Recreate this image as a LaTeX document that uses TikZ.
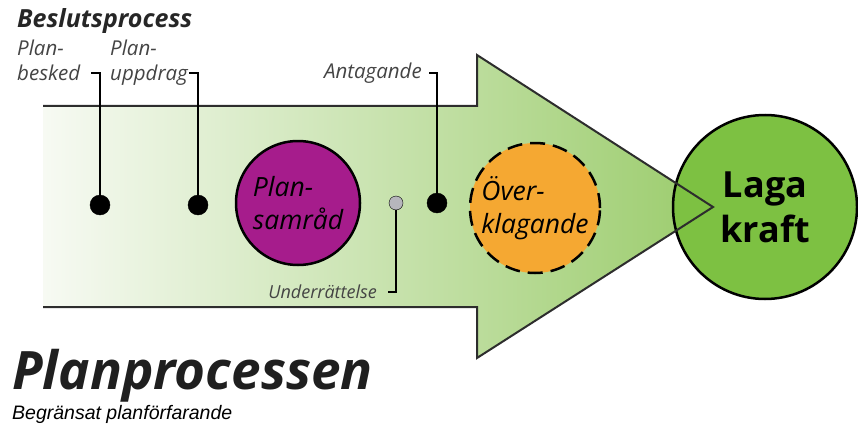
\documentclass[tikz,border=0pt]{standalone}
\usepackage{fontspec}
\setmainfont{Open Sans}
\newfontfamily\arialfont{Liberation Sans}
\usepackage{tikz}
\usetikzlibrary{positioning, calc}
\definecolor{arrowlight}{RGB}{247,250,243}
\definecolor{arrowmid}{RGB}{221,236,204}
\definecolor{arrowgreen}{RGB}{155,204,108}
\definecolor{samradpurple}{RGB}{166,28,140}
\definecolor{klagorange}{RGB}{245,168,50}
\definecolor{lagagreen}{RGB}{125,193,66}
\definecolor{outlinegray}{RGB}{45,45,45}
\definecolor{labelgray}{RGB}{68,68,68}
\definecolor{notisgray}{RGB}{182,182,188}

\begin{document}
\begin{tikzpicture}[x=1pt, y=-1pt,
    dot/.style={circle, draw=black, fill=#1, inner sep=0pt, minimum size=20pt},
    dot/.default=black,
    stage/.style={circle, draw=black, line width=2.5pt, fill=#1, inner sep=0pt,
                  align=left, font=\itshape\fontsize{26.5}{33}\selectfont},
    label/.style={inner sep=0pt, align=left, text=labelgray,
                  font=\itshape\fontsize{20.5}{25}\selectfont},
    tick/.style={draw=black, line width=1.5pt},
    outline/.style={draw=outlinegray, line width=2pt, line join=miter}
]
    \useasboundingbox (0,0) rectangle (858,425);

    % Arrow body
    \shade[left color=arrowlight, middle color=arrowmid, right color=arrowgreen]
        (43,106) -- (477,106) -- (477,55) -- (713,207) -- (477,358) -- (477,307) -- (43,307) -- cycle;

    % Stages
    \node[stage=samradpurple, minimum size=124pt] (samrad) at (298,203) {Plan-\\samråd};
    \node[stage=klagorange, dash pattern=on 15pt off 8pt, minimum size=130pt] (klag) at (535,208) {Över-\\klagande};
    \node[stage=lagagreen, minimum size=184pt, align=center,
          font=\bfseries\fontsize{36}{45}\selectfont] (laga) at (765,207) {Laga\\kraft};

    \draw[outline] (43,106) -- (477,106) -- (477,55) -- (713,207) -- (477,358) -- (477,307) -- (43,307);

    % Dots
    \node[dot] (beskedDot) at (100,205) {};
    \node[dot] (uppdragDot) at (198,205) {};
    \node[dot] (antagDot) at (437,203) {};
    \node[dot=notisgray, minimum size=14pt] (notisDot) at (396,203) {};

    % Labels
    \node[label, anchor=north west] (besked) at (17,40) {Plan-\\besked};
    \node[label, anchor=north west] (uppdrag) at (110,40) {Plan-\\uppdrag};
    \node[label, anchor=base east] (antag) at (422,79) {Antagande};
    \node[label, anchor=base east, font=\itshape\fontsize{18}{20}\selectfont] (notis) at (377,298) {Underrättelse};

    \coordinate (beskedTick) at (91,73);
    \coordinate (uppdragTick) at (189,73);
    \coordinate (antagTick) at (429,73);
    \coordinate (notisTick) at (388,292);

    \draw[tick] (beskedDot) |- (beskedTick);
    \draw[tick] (uppdragDot) |- (uppdragTick);
    \draw[tick] (antagDot) |- (antagTick);
    \draw[tick] (notisDot) |- (notisTick);

    % Titles
    \node[anchor=base west, inner sep=0pt, text=black!85,
          font=\bfseries\itshape\fontsize{25}{28}\selectfont] (beslut) at (17,28) {Beslutsprocess};
    \node[anchor=base west, inner sep=0pt, text=black!88,
          font=\bfseries\itshape\fontsize{53}{56}\selectfont] (planproc) at (12,389) {Planprocessen};
    \node[anchor=base west, inner sep=0pt,
          font=\arialfont\itshape\fontsize{19.5}{22}\selectfont] (begr) at (12,419) {Begränsat planförfarande};
\end{tikzpicture}
\end{document}
